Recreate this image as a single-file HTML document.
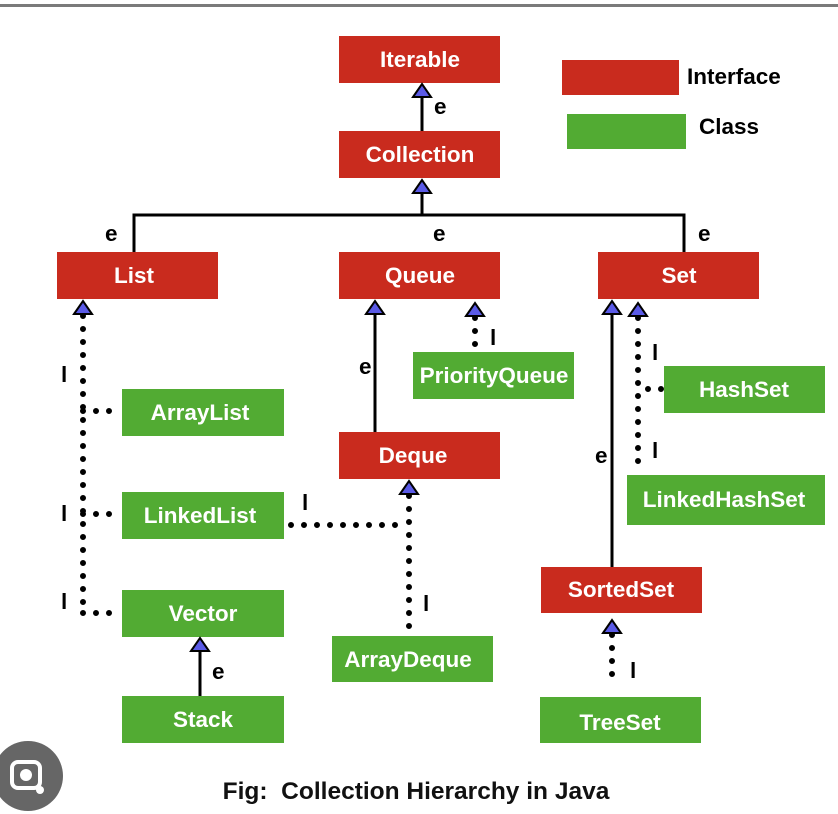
<!DOCTYPE html>
<html><head><style>
body{margin:0;background:#fff;width:838px;height:814px;overflow:hidden}
svg{display:block}
text{font-family:"Liberation Sans",sans-serif;font-weight:bold}
</style></head><body>
<svg width="838" height="814" viewBox="0 0 838 814">
<defs>
<path id="ar" d="M-9,13 L0,0 L9,13 Z" fill="#5a5ae6" stroke="#000" stroke-width="2"/>
</defs>
<rect x="0" y="4" width="838" height="3" fill="#7a7a7a"/>
<g fill="#c92b1e">
<rect x="339" y="36" width="161" height="47"/>
<rect x="339" y="131" width="161" height="47"/>
<rect x="57" y="252" width="161" height="47"/>
<rect x="339" y="252" width="161" height="47"/>
<rect x="598" y="252" width="161" height="47"/>
<rect x="562" y="60" width="117" height="35"/>
<rect x="339" y="432" width="161" height="47"/>
<rect x="541" y="567" width="161" height="46"/>
</g>
<g fill="#52ab33">
<rect x="567" y="114" width="119" height="35"/>
<rect x="413" y="352" width="161" height="47"/>
<rect x="122" y="389" width="162" height="47"/>
<rect x="664" y="366" width="161" height="47"/>
<rect x="122" y="492" width="162" height="47"/>
<rect x="627" y="475" width="198" height="50"/>
<rect x="122" y="590" width="162" height="47"/>
<rect x="332" y="636" width="161" height="46"/>
<rect x="122" y="696" width="162" height="47"/>
<rect x="540" y="697" width="161" height="46"/>
</g>
<g fill="#fff" font-size="22.5" text-anchor="middle">
<text x="420" y="67">Iterable</text>
<text x="420" y="162">Collection</text>
<text x="134" y="283">List</text>
<text x="420" y="283">Queue</text>
<text x="679" y="283">Set</text>
<text x="494" y="383">PriorityQueue</text>
<text x="200" y="420">ArrayList</text>
<text x="744" y="397">HashSet</text>
<text x="413" y="463">Deque</text>
<text x="200" y="523">LinkedList</text>
<text x="724" y="507">LinkedHashSet</text>
<text x="621" y="597">SortedSet</text>
<text x="203" y="621">Vector</text>
<text x="408" y="667">ArrayDeque</text>
<text x="203" y="727">Stack</text>
<text x="620" y="730">TreeSet</text>
</g>
<g font-size="22.5" fill="#000">
<text x="687" y="84">Interface</text>
<text x="699" y="134">Class</text>
<text x="434" y="114">e</text>
<text x="105" y="241">e</text>
<text x="433" y="241">e</text>
<text x="698" y="241">e</text>
<text x="359" y="374">e</text>
<text x="595" y="463">e</text>
<text x="212" y="679">e</text>
<text x="61" y="382">l</text>
<text x="61" y="521">l</text>
<text x="61" y="609">l</text>
<text x="490" y="345">l</text>
<text x="423" y="611">l</text>
<text x="302" y="510">l</text>
<text x="652" y="360">l</text>
<text x="652" y="458">l</text>
<text x="630" y="678">l</text>
</g>
<g stroke="#000" stroke-width="3" fill="none">
<path d="M422 131V97"/>
<path d="M422 193V215M134 252V215H684V252"/>
<path d="M375 313V432"/>
<path d="M612 314V567"/>
<path d="M200 650V696"/>
</g>
<g stroke="#000" stroke-width="6" stroke-linecap="round" stroke-dasharray="0 13" fill="none">
<path d="M83 316V613"/>
<path d="M83 411H122M83 514H122M83 613H122"/>
<path d="M475 318V352"/>
<path d="M409 496V636"/>
<path d="M291 525H400"/>
<path d="M638 318V470"/>
<path d="M648 389H664"/>
<path d="M612 635V686"/>
</g>
<use href="#ar" x="422" y="84"/>
<use href="#ar" x="422" y="180"/>
<use href="#ar" x="83" y="301"/>
<use href="#ar" x="375" y="301"/>
<use href="#ar" x="475" y="303"/>
<use href="#ar" x="612" y="301"/>
<use href="#ar" x="638" y="303"/>
<use href="#ar" x="409" y="481"/>
<use href="#ar" x="612" y="620"/>
<use href="#ar" x="200" y="638"/>
<text x="416" y="799" font-size="24.5" text-anchor="middle" fill="#111">Fig:&#160; Collection Hierarchy in Java</text>
<circle cx="28" cy="776" r="35" fill="#666"/>
<rect x="12" y="762" width="28" height="26" rx="6" fill="none" stroke="#fff" stroke-width="4"/>
<circle cx="26" cy="775" r="6" fill="#fff"/>
<circle cx="40" cy="790" r="4" fill="#fff"/>
</svg>
</body></html>
